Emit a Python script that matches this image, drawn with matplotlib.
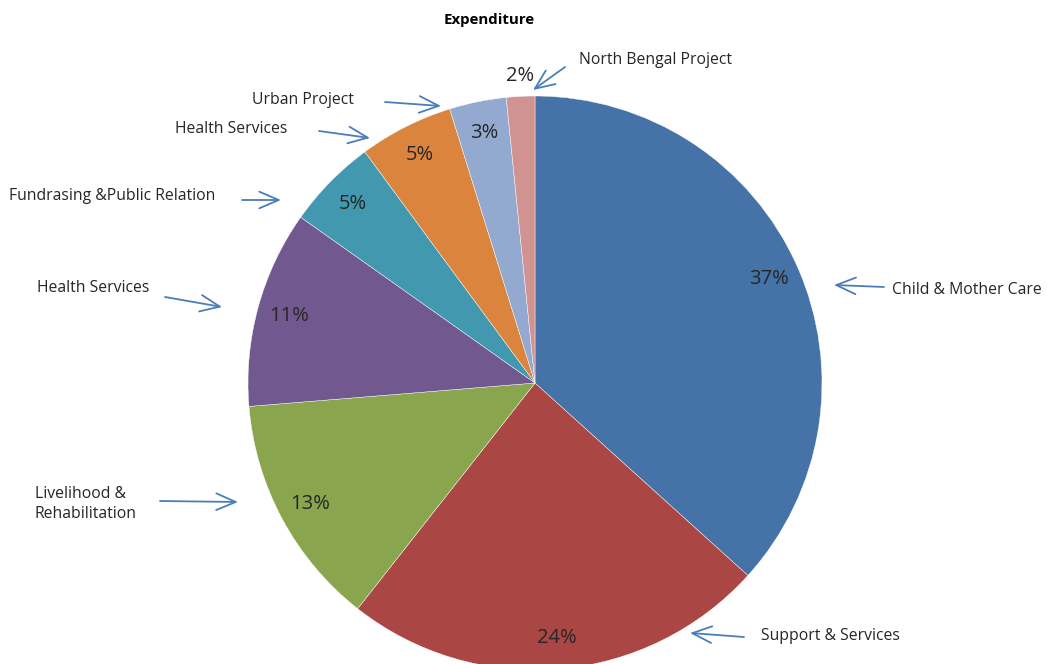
import numpy as np
import matplotlib.pyplot as plt

plt.rcParams['font.family'] = ['Open Sans', 'DejaVu Sans']

# expenditure shares (clockwise from top)
labels = ["Child & Mother Care", "Support & Services", "Livelihood &\nRehabilitation",
          "Health Services", "Fundrasing &Public Relation", "Health Services",
          "Urban Project", "North Bengal Project"]
values = [36.7, 23.9, 13.1, 11.1, 5.1, 5.3, 3.2, 1.6]
colors = ["#4572A7", "#AA4643", "#89A54E", "#71588F",
          "#4198AF", "#DB843D", "#93A9CF", "#D19392"]

W, H = 1047, 664
fig = plt.figure(figsize=(W / 100, H / 100), dpi=100)
ax = fig.add_axes([0, 0, 1, 1])

def py(y):
    # pixel row -> data y
    return H - y

cx, cy, R = 535, py(383), 287
wedges, texts, autotexts = ax.pie(values, colors=colors, startangle=90, counterclock=False,
                                  center=(cx, cy), radius=R, autopct='%.0f%%',
                                  pctdistance=0.89, frame=True,
                                  wedgeprops=dict(edgecolor='white', linewidth=0.3),
                                  textprops=dict(fontsize=14.5, color='#262626'))
ax.set_xlim(0, W)
ax.set_ylim(0, H)
ax.set_aspect('equal')
ax.axis('off')

# small last slice: label sits outside the pie
w = wedges[-1]
mid = np.deg2rad((w.theta1 + w.theta2) / 2)
autotexts[-1].set_position((cx + 1.07 * R * np.cos(mid), cy + 1.07 * R * np.sin(mid)))

# label text position, arrow tail, arrow head (pixels)
ann = [
    ((892, 290), (884, 287), (834, 285)),
    ((761, 636), (744, 637), (690, 633)),
    ((35, 504), (160, 501), (238, 502)),
    ((37, 288), (165, 297), (222, 307)),
    ((9, 196), (242, 200), (281, 200)),
    ((175, 129), (319, 131), (370, 138)),
    ((252, 100), (385, 102), (441, 106)),
    ((579, 60), (565, 67), (533, 90)),
]
for lab, (tp, tail, head) in zip(labels, ann):
    ax.text(tp[0], py(tp[1]), lab, ha='left', va='center', fontsize=11.3,
            color='#262626', linespacing=1.4)
    ax.annotate('', xy=(head[0], py(head[1])), xytext=(tail[0], py(tail[1])),
                arrowprops=dict(arrowstyle='->,head_length=1.4,head_width=0.6',
                                color='#4A7EBB', lw=1.3, shrinkA=0, shrinkB=0))

ax.text(489, py(20), "Expenditure", ha='center', va='center', fontsize=10.8,
        fontweight='bold', color='black')

fig.savefig('out.png', dpi=100)
